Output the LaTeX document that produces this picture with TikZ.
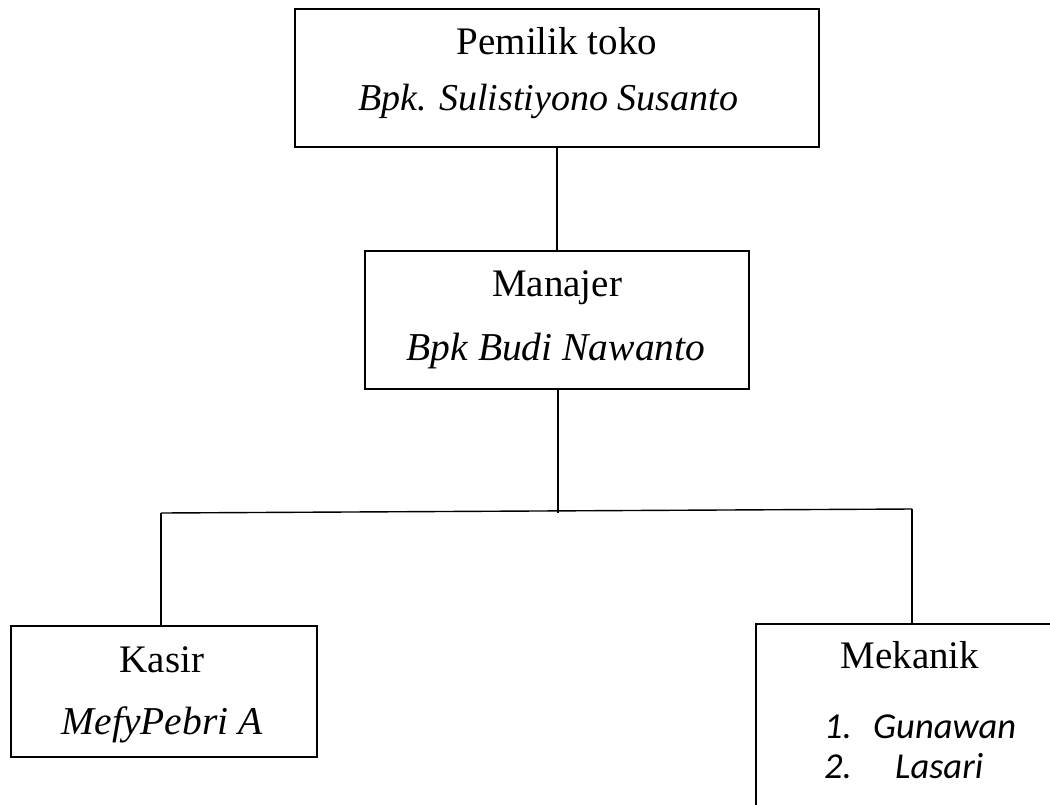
\documentclass[tikz,border=0pt]{standalone}
\usepackage{fontspec}
\setmainfont{Liberation Serif}
\newfontfamily\calibrifont{Carlito}
\begin{document}
\begin{tikzpicture}[x=1pt,y=-1pt,
  orgbox/.style={draw,line width=1.4pt,inner sep=0pt,outer sep=0pt,rectangle},
  conn/.style={line width=1.4pt},
  lbl/.style={anchor=base,inner sep=0pt,font=\fontsize{39}{44}\selectfont},
  ilbl/.style={anchor=base,inner sep=0pt,font=\itshape\fontsize{39.5}{44}\selectfont},
  lst/.style={anchor=base west,inner sep=0pt,font=\calibrifont\itshape\fontsize{36.5}{40}\selectfont}]
\clip (0,0) rectangle (1050,804);
\useasboundingbox (0,0) rectangle (1050,804);
% boxes
\node[orgbox,minimum width=524pt,minimum height=138pt] (owner) at (557,78) {};
\node[orgbox,minimum width=384pt,minimum height=138pt] (mgr) at (557,320) {};
\node[orgbox,minimum width=306pt,minimum height=131pt] (kasir) at (164,691.5) {};
\node[orgbox,minimum width=344pt,minimum height=276pt] (mek) at (928,762) {};
% texts
\node[lbl] (t1) at (557,54) {Pemilik toko};
\node[ilbl,font=\itshape\fontsize{38}{44}\selectfont] (t2) at (548,110) {Bpk. Sulistiyono Susanto};
\node[lbl] (t3) at (557,296) {Manajer};
\node[ilbl] (t4) at (556,360) {Bpk Budi Nawanto};
\node[lbl] (t5) at (162,672) {Kasir};
\node[ilbl] (t6) at (162,734) {MefyPebri A};
\node[lbl] (t7) at (910,668) {Mekanik};
\node[lst] (l1n) at (824,738) {1.};
\node[lst] (l1) at (873,738) {Gunawan};
\node[lst] (l2n) at (824,778) {2.};
\node[lst] (l2) at (895,778) {Lasari};
% connectors
\coordinate (jm) at (558,513);
\coordinate (jl) at (161,513);
\coordinate (jr) at (912,509);
\draw[conn] (owner.south) -- (mgr.north);
\draw[conn] (mgr.south -| jm) -- (jm);
\draw[conn] (jl) -- (jr);
\draw[conn] (jl) -- (jl |- kasir.north);
\draw[conn] (jr) -- (jr |- mek.north);
\end{tikzpicture}
\end{document}
